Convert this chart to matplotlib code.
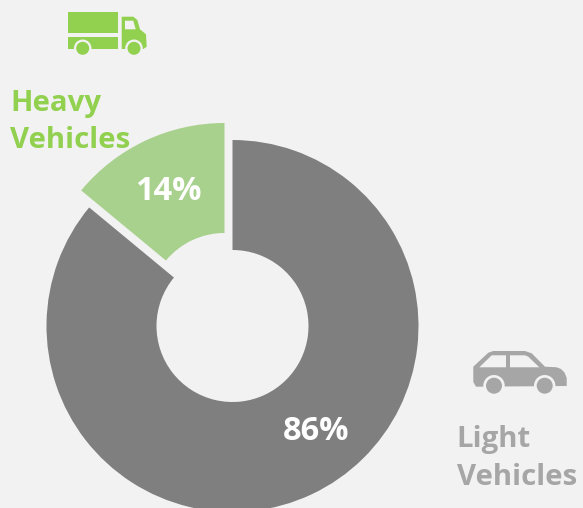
import matplotlib
matplotlib.use("Agg")
import matplotlib.pyplot as plt
from matplotlib.patches import Polygon, Circle, Rectangle

categories = ["Light\nVehicles", "Heavy\nVehicles"]
shares = [86, 14]
share_labels = ["86%", "14%"]

BG = "#f2f2f2"
DARK_GRAY = "#7f7f7f"
SOFT_GREEN = "#a9d18e"
LABEL_GREEN = "#92d050"
LABEL_GRAY = "#a6a6a6"
H = 508

plt.rcParams["font.family"] = ["Open Sans", "DejaVu Sans"]
fig = plt.figure(figsize=(5.83, 5.08), dpi=100, facecolor=BG)
ax = fig.add_axes([0, 0, 1, 1])
ax.set_facecolor(BG)

# Donut with the smaller share pulled away from the centre
ax.pie(
    shares,
    colors=[DARK_GRAY, SOFT_GREEN],
    explode=[0, 18.8],
    center=(232.5, H - 326),
    radius=186,
    startangle=90,
    counterclock=False,
    frame=True,
    wedgeprops={"width": 110, "linewidth": 0},
)
ax.set_xlim(0, 583)
ax.set_ylim(0, H)
ax.set_aspect("equal")
ax.axis("off")


def px(points):
    return [(x, H - y) for x, y in points]


# Truck icon
ax.add_patch(Rectangle((68.3, H - 32.7), 49.7, 20.7, fc=LABEL_GREEN, lw=0))
ax.add_patch(Rectangle((68.3, H - 49), 49.7, 12.3, fc=LABEL_GREEN, lw=0))
cab = [(121.7, 16.7), (133.3, 16.7), (137.3, 20), (140, 29.3), (146, 34.3),
       (146.7, 46.7), (143.3, 49), (121.7, 49)]
ax.add_patch(Polygon(px(cab), fc=LABEL_GREEN, lw=0))
window = [(125, 20.7), (133.3, 20.7), (135.7, 29.3), (125, 29.3)]
ax.add_patch(Polygon(px(window), fc=BG, lw=0))
for cx in (82.7, 134):
    ax.add_patch(Circle((cx, H - 48.3), 8.8, fc=BG, lw=0))
    ax.add_patch(Circle((cx, H - 48.3), 6.5, fc=LABEL_GREEN, lw=0))

# Car icon
body = [(473.3, 366.7), (488.3, 352.7), (493.3, 351), (525, 351), (531.7, 353.3),
        (545, 366.7), (556.7, 367.3), (561, 369), (564.5, 372.5), (566.7, 378),
        (566.7, 386), (476, 386.7), (473.3, 382)]
ax.add_patch(Polygon(px(body), fc=LABEL_GRAY, lw=0))
front = [(479.3, 367.3), (491.7, 355.3), (506, 355.3), (506, 367.3)]
rear = [(510, 355.3), (525, 355.3), (528.3, 356.7), (539.3, 367.3), (510, 367.3)]
ax.add_patch(Polygon(px(front), fc=BG, lw=0))
ax.add_patch(Polygon(px(rear), fc=BG, lw=0))
for cx in (494, 544.7):
    ax.add_patch(Circle((cx, H - 385.7), 10.7, fc=BG, lw=0))
    ax.add_patch(Circle((cx, H - 385.7), 8, fc=LABEL_GRAY, lw=0))

# Category names
name_size = 21.2
ax.text(10, H - 111, categories[1].split("\n")[0], color=LABEL_GREEN, fontsize=name_size,
        fontweight="bold", ha="left", va="baseline")
ax.text(10.5, H - 148, categories[1].split("\n")[1], color=LABEL_GREEN, fontsize=name_size,
        fontweight="bold", ha="left", va="baseline")
ax.text(456, H - 447, categories[0].split("\n")[0], color=LABEL_GRAY, fontsize=name_size,
        fontweight="bold", ha="left", va="baseline")
ax.text(457, H - 485, categories[0].split("\n")[1], color=LABEL_GRAY, fontsize=name_size,
        fontweight="bold", ha="left", va="baseline")

# Share labels on the donut
ax.text(316.5, H - 431, share_labels[0], color="white", fontsize=23.5,
        fontweight="bold", ha="center", va="center")
ax.text(168.5, H - 191, share_labels[1], color="white", fontsize=23.5,
        fontweight="bold", ha="center", va="center")

fig.savefig("out.png", dpi=100, facecolor=BG)
